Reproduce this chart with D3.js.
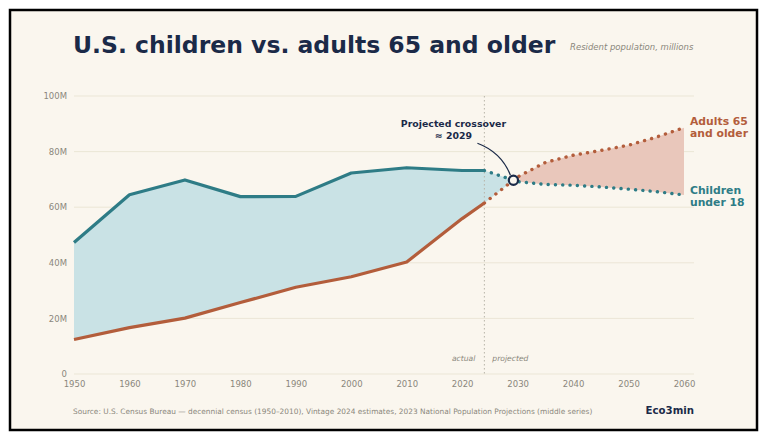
<!DOCTYPE html>
<html>
<head>
<meta charset="utf-8">
<script src="https://cdn.jsdelivr.net/npm/d3@7"></script>
<style>
  html, body { margin: 0; padding: 0; background: #ffffff; }
  svg { display: block; font-family: "DejaVu Sans", sans-serif; }
</style>
</head>
<body>
<div id="chart"></div>
<script>
// values in millions
const actualYears = [1950, 1960, 1970, 1980, 1990, 2000, 2010, 2020, 2024];
const childrenActual = [47.3, 64.5, 69.8, 63.8, 63.9, 72.3, 74.2, 73.2, 73.2];
const adultsActual = [12.4, 16.7, 20.1, 25.7, 31.2, 35.0, 40.3, 55.9, 61.5];

const projYears = [2024, 2030, 2035, 2040, 2045, 2050, 2055, 2060];
const childrenProj = [73.2, 69.2, 68.2, 67.9, 67.3, 66.5, 65.6, 64.4];
const adultsProj = [61.5, 70.9, 76.1, 78.7, 80.4, 82.3, 85.2, 88.6];

const yTicks = [0, 20, 40, 60, 80, 100];
const xTicks = [1950, 1960, 1970, 1980, 1990, 2000, 2010, 2020, 2030, 2040, 2050, 2060];

const W = 767, H = 440;
const margin = { top: 96, right: 83, bottom: 66, left: 74 };

const teal = "#2e7c86", rust = "#b35d3b", navy = "#1b2a48", grey = "#8a877c";

const svg = d3.select("#chart").append("svg")
    .attr("width", W)
    .attr("height", H);

// frame
svg.append("rect")
    .attr("x", 10).attr("y", 10)
    .attr("width", W - 20).attr("height", H - 20)
    .attr("fill", "#faf6ee")
    .attr("stroke", "#000").attr("stroke-width", 2.5);

const x = d3.scaleLinear().domain([1950, 2060]).range([margin.left, W - margin.right]);
const y = d3.scaleLinear().domain([0, 100]).range([H - margin.bottom, margin.top]);

// gridlines
svg.append("g").selectAll("line")
    .data(yTicks)
    .join("line")
    .attr("x1", x(1950)).attr("x2", x(2060) + 10)
    .attr("y1", d => y(d)).attr("y2", d => y(d))
    .attr("stroke", "#ebe6d6").attr("stroke-width", 1);

// axes
const yAxis = svg.append("g")
    .attr("transform", `translate(${x(1950)},0)`)
    .call(d3.axisLeft(y).tickValues(yTicks).tickSize(0).tickPadding(7)
        .tickFormat(d => d === 0 ? "0" : d + "M"));
const xAxis = svg.append("g")
    .attr("transform", `translate(0,${y(0)})`)
    .call(d3.axisBottom(x).tickValues(xTicks).tickSize(0).tickPadding(6.5).tickFormat(d3.format("d")));
[yAxis, xAxis].forEach(g => {
    g.select(".domain").remove();
    g.selectAll("text").attr("fill", grey).attr("font-size", 8.5)
        .attr("font-family", "DejaVu Sans, sans-serif");
});

// combined series for fills
const all = actualYears.map((yr, i) => ({ year: yr, c: childrenActual[i], a: adultsActual[i] }))
    .concat(projYears.slice(1).map((yr, i) => ({ year: yr, c: childrenProj[i + 1], a: adultsProj[i + 1] })));

// crossover
let cross = null;
for (let i = 1; i < all.length && !cross; i++) {
    const p = all[i - 1], q = all[i];
    const d0 = p.c - p.a, d1 = q.c - q.a;
    if (d0 > 0 && d1 <= 0) {
        const t = d0 / (d0 - d1);
        cross = { year: p.year + t * (q.year - p.year), c: p.c + t * (q.c - p.c) };
        cross.a = cross.c;
    }
}

const before = all.filter(d => d.year < cross.year).concat([cross]);
const after = [cross].concat(all.filter(d => d.year > cross.year));

const area = d3.area()
    .x(d => x(d.year))
    .y0(d => y(d.a))
    .y1(d => y(d.c));

svg.append("path").datum(before).attr("d", area).attr("fill", "#c9e2e5");
svg.append("path").datum(after).attr("d", area).attr("fill", "#e9c7bb");

// actual / projected divider
svg.append("line")
    .attr("x1", x(2024)).attr("x2", x(2024))
    .attr("y1", y(100)).attr("y2", y(0))
    .attr("stroke", "#b8b4a8").attr("stroke-width", 1)
    .attr("stroke-dasharray", "1.5 2.5");
svg.append("text")
    .attr("x", x(2024) - 9).attr("y", y(0) - 13)
    .attr("text-anchor", "end").attr("font-size", 7.6).attr("font-style", "italic")
    .attr("fill", grey).text("actual");
svg.append("text")
    .attr("x", x(2024) + 8).attr("y", y(0) - 13)
    .attr("font-size", 7.6).attr("font-style", "italic")
    .attr("fill", grey).text("projected");

const line = d3.line().x(d => x(d[0])).y(d => y(d[1]));

// actual lines
svg.append("path")
    .datum(d3.zip(actualYears, childrenActual))
    .attr("d", line).attr("fill", "none")
    .attr("stroke", teal).attr("stroke-width", 3.2).attr("stroke-linejoin", "round");
svg.append("path")
    .datum(d3.zip(actualYears, adultsActual))
    .attr("d", line).attr("fill", "none")
    .attr("stroke", rust).attr("stroke-width", 3.2).attr("stroke-linejoin", "round");

// projected (dotted) lines
[[childrenProj, teal], [adultsProj, rust]].forEach(([vals, col]) => {
    svg.append("path")
        .datum(d3.zip(projYears, vals))
        .attr("d", line).attr("fill", "none")
        .attr("stroke", col).attr("stroke-width", 3.4)
        .attr("stroke-linecap", "round")
        .attr("stroke-dasharray", "0.1 7.2");
});

// crossover marker + annotation
const cx = x(cross.year), cy = y(cross.c);
svg.append("path")
    .attr("d", `M${cx - 36},${cy - 37} Q${cx - 12},${cy - 28} ${cx - 3},${cy - 5}`)
    .attr("fill", "none").attr("stroke", navy).attr("stroke-width", 1.2);
svg.append("circle")
    .attr("cx", cx).attr("cy", cy).attr("r", 4.6)
    .attr("fill", "#faf6ee").attr("stroke", navy).attr("stroke-width", 2.2);
const ann = svg.append("text")
    .attr("text-anchor", "middle").attr("font-size", 9.4).attr("font-weight", "bold")
    .attr("fill", navy);
ann.append("tspan").attr("x", cx - 60).attr("y", cy - 53).text("Projected crossover");
ann.append("tspan").attr("x", cx - 60).attr("y", cy - 41).text("≈ 2029");

// end labels
const lastC = childrenProj[childrenProj.length - 1], lastA = adultsProj[adultsProj.length - 1];
const endLabel = (lines, v, col, dy) => {
    const t = svg.append("text").attr("font-size", 10.8).attr("font-weight", "bold").attr("fill", col);
    lines.forEach((s, i) => t.append("tspan")
        .attr("x", x(2060) + 6).attr("y", y(v) + dy + i * 12).text(s));
};
endLabel(["Adults 65", "and older"], lastA, rust, -3);
endLabel(["Children", "under 18"], lastC, teal, -1);

// title
svg.append("text")
    .attr("x", 73).attr("y", 53)
    .attr("font-size", 23.5).attr("font-weight", "bold").attr("fill", navy)
    .text("U.S. children vs. adults 65 and older");
svg.append("text")
    .attr("x", 570).attr("y", 49.5)
    .attr("font-size", 8.5).attr("font-style", "italic").attr("fill", grey)
    .text("Resident population, millions");

// footer
svg.append("text")
    .attr("x", 73).attr("y", 414)
    .attr("font-size", 7.4).attr("fill", grey)
    .text("Source: U.S. Census Bureau — decennial census (1950–2010), Vintage 2024 estimates, 2023 National Population Projections (middle series)");
svg.append("text")
    .attr("x", 694).attr("y", 414)
    .attr("text-anchor", "end")
    .attr("font-size", 10.2).attr("font-weight", "bold").attr("fill", navy)
    .text("Eco3min");
</script>
</body>
</html>
